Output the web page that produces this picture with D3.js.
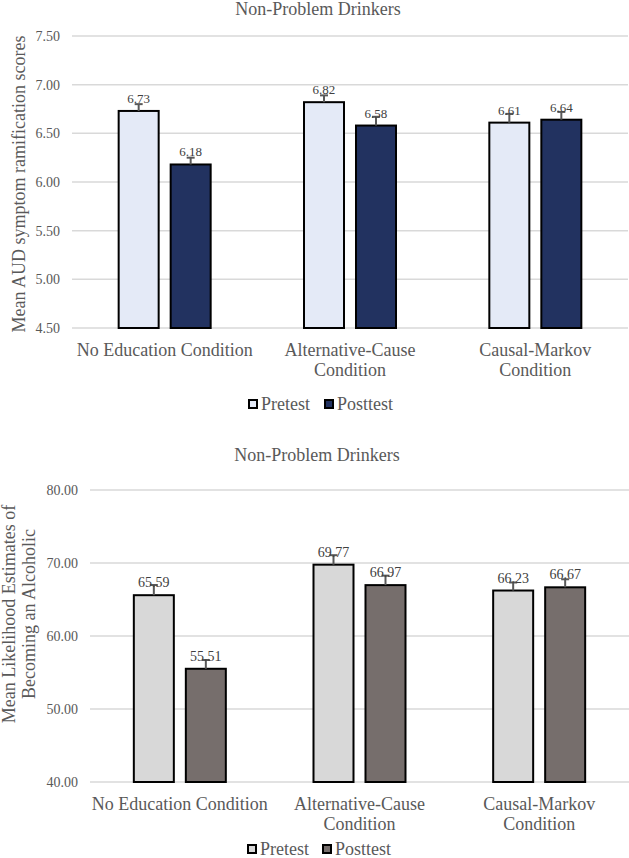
<!DOCTYPE html>
<html>
<head>
<meta charset="utf-8">
<script src="https://cdn.jsdelivr.net/npm/d3@7"></script>
<style>
  html, body { margin: 0; padding: 0; background: #fff; }
  svg { display: block; font-family: "Liberation Serif", "Times New Roman", serif; }
</style>
</head>
<body>
<svg id="chart" width="629" height="858"></svg>
<script>
// ---------- DATA ----------
const categories = ["No Education Condition", "Alternative-Cause Condition", "Causal-Markov Condition"];
const seriesNames = ["Pretest", "Posttest"];

const chartTitle1 = "Non-Problem Drinkers";
const yTitle1 = ["Mean AUD symptom ramification scores"];
const yTicks1 = [4.5, 5.0, 5.5, 6.0, 6.5, 7.0, 7.5];
const pretest1 = [6.73, 6.82, 6.61];
const posttest1 = [6.18, 6.58, 6.64];
const pretestErr1 = [0.07, 0.07, 0.09];
const posttestErr1 = [0.07, 0.09, 0.08];

const chartTitle2 = "Non-Problem Drinkers";
const yTitle2 = ["Mean Likelihood Estimates of", "Becoming an Alcoholic"];
const yTicks2 = [40, 50, 60, 70, 80];
const pretest2 = [65.59, 69.77, 66.23];
const posttest2 = [55.51, 66.97, 66.67];
const pretestErr2 = [1.4, 1.3, 1.1];
const posttestErr2 = [1.2, 1.3, 1.1];

// ---------- DRAW ----------
const svg = d3.select("#chart");
const textGray = "#595959";
const serif = "'Liberation Serif', 'Times New Roman', serif";

function drawChart(cfg) {
  const g = svg.append("g");
  const y = d3.scaleLinear().domain(cfg.domain).range([cfg.bottom, cfg.top]);
  const x0 = d3.scaleBand().domain(categories).range([cfg.left, cfg.right]).padding(0);
  const groupW = 94;
  const x1 = d3.scaleBand().domain(seriesNames)
    .range([(x0.bandwidth() - groupW) / 2, (x0.bandwidth() + groupW) / 2])
    .paddingInner(0.1923).paddingOuter(0);

  // title
  g.append("text").attr("x", cfg.titleX).attr("y", cfg.titleY)
    .attr("text-anchor", "middle").attr("font-size", 18).attr("fill", textGray)
    .text(cfg.title);

  // gridlines
  g.append("g").selectAll("line").data(cfg.ticks).join("line")
    .attr("x1", cfg.left).attr("x2", cfg.right)
    .attr("y1", d => y(d)).attr("y2", d => y(d))
    .attr("stroke", "#d9d9d9").attr("stroke-width", 1.5);

  // tick labels
  const yAxis = d3.axisLeft(y).tickValues(cfg.ticks).tickSize(0).tickPadding(12)
    .tickFormat(d3.format(".2f"));
  const ax = g.append("g").attr("transform", `translate(${cfg.left},0)`).call(yAxis)
    .attr("font-family", serif);
  ax.select(".domain").remove();
  ax.selectAll("text").attr("font-size", 14).attr("fill", textGray);

  // y title
  const yt = g.append("text")
    .attr("transform", `translate(${cfg.yTitleX},${cfg.yTitleY}) rotate(-90)`)
    .attr("text-anchor", "middle").attr("font-size", 18).attr("fill", textGray);
  cfg.yTitle.forEach((line, i) => {
    yt.append("tspan").attr("x", 0).attr("dy", i === 0 ? (-(cfg.yTitle.length - 1) * 0.55 + 0.35) + "em" : "1.1em").text(line);
  });

  // bars
  const rows = categories.map((c, i) => ({
    cat: c,
    vals: [
      { s: "Pretest", v: cfg.pre[i], e: cfg.preErr[i] },
      { s: "Posttest", v: cfg.post[i], e: cfg.postErr[i] }
    ]
  }));
  const groups = g.append("g").selectAll("g").data(rows).join("g")
    .attr("transform", d => `translate(${x0(d.cat)},0)`);
  const bw = x1.bandwidth();
  groups.selectAll("rect").data(d => d.vals).join("rect")
    .attr("x", d => x1(d.s) + 1).attr("width", bw - 2)
    .attr("y", d => y(d.v)).attr("height", d => y(cfg.domain[0]) - y(d.v))
    .attr("fill", d => cfg.colors[d.s]).attr("stroke", "#000").attr("stroke-width", 2);

  // error bars (plus direction)
  const eb = groups.selectAll("g.err").data(d => d.vals).join("g").attr("class", "err");
  eb.append("line")
    .attr("x1", d => x1(d.s) + bw / 2).attr("x2", d => x1(d.s) + bw / 2)
    .attr("y1", d => y(d.v)).attr("y2", d => y(d.v + d.e))
    .attr("stroke", "#595959").attr("stroke-width", 2);
  eb.append("line")
    .attr("x1", d => x1(d.s) + bw / 2 - 4).attr("x2", d => x1(d.s) + bw / 2 + 4)
    .attr("y1", d => y(d.v + d.e)).attr("y2", d => y(d.v + d.e))
    .attr("stroke", "#595959").attr("stroke-width", 2);

  // data labels
  groups.selectAll("text.lbl").data(d => d.vals).join("text").attr("class", "lbl")
    .attr("x", d => x1(d.s) + bw / 2).attr("y", d => y(d.v) - 8)
    .attr("text-anchor", "middle").attr("font-size", cfg.labelSize).attr("fill", "#404040")
    .text(d => d.v.toFixed(2));

  // category labels with wrapping
  categories.forEach(c => {
    const cx = x0(c) + x0.bandwidth() / 2;
    const t = g.append("text").attr("x", cx).attr("y", cfg.catY)
      .attr("text-anchor", "middle").attr("font-size", 18).attr("fill", textGray);
    t.text(c);
    const w = t.node().getComputedTextLength();
    if (w > x0.step()) {
      const words = c.split(" ");
      const last = words.pop();
      t.text(null);
      t.append("tspan").attr("x", cx).attr("dy", 0).text(words.join(" "));
      t.append("tspan").attr("x", cx).attr("dy", 20).text(last);
    }
  });

  // legend
  const lg = g.append("g");
  cfg.legendX.forEach((lx, i) => {
    const s = seriesNames[i];
    lg.append("rect").attr("x", lx + 1).attr("y", cfg.legendY - 4).attr("width", 8).attr("height", 8)
      .attr("fill", cfg.colors[s]).attr("stroke", "#000").attr("stroke-width", 2);
    lg.append("text").attr("x", lx + 13).attr("y", cfg.legendY).attr("dy", "0.35em")
      .attr("font-size", 18).attr("fill", textGray).text(s);
  });
}

drawChart({
  title: chartTitle1, titleX: 318, titleY: 15,
  domain: [4.5, 7.5], top: 36, bottom: 328, left: 72, right: 628,
  ticks: yTicks1, yTitle: yTitle1, yTitleX: 19, yTitleY: 184,
  pre: pretest1, post: posttest1, preErr: pretestErr1, postErr: posttestErr1,
  colors: { Pretest: "#e4eaf7", Posttest: "#223260" },
  labelSize: 13, catY: 356,
  legendX: [248, 324], legendY: 404
});

drawChart({
  title: chartTitle2, titleX: 317, titleY: 461,
  domain: [40, 80], top: 490, bottom: 782, left: 90, right: 629,
  ticks: yTicks2, yTitle: yTitle2, yTitleX: 19, yTitleY: 614,
  pre: pretest2, post: posttest2, preErr: pretestErr2, postErr: posttestErr2,
  colors: { Pretest: "#d8d8d8", Posttest: "#766e6c" },
  labelSize: 14, catY: 810,
  legendX: [247, 322], legendY: 849
});
</script>
</body>
</html>
